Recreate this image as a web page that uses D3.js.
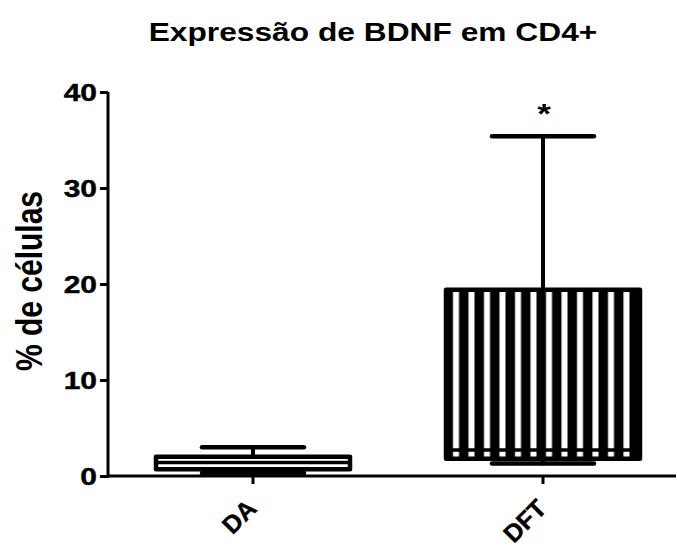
<!DOCTYPE html>
<html>
<head>
<meta charset="utf-8">
<script src="https://cdn.jsdelivr.net/npm/d3@7"></script>
<style>
  body { margin: 0; background: #fff; }
  text { font-family: "Liberation Sans", Arial, sans-serif; font-weight: bold; fill: #000; }
</style>
</head>
<body>
<svg id="chart" width="677" height="550"></svg>
<script>
const categories = ["DA", "DFT"];
const minValues = [0.3, 1.3];
const q1Values = [0.7, 1.8];
const medianValues = [1.4, 2.7];
const q3Values = [2.0, 19.4];
const maxValues = [3.0, 35.4];
const yTicks = [0, 10, 20, 30, 40];
const title = "Expressão de BDNF em CD4+";
const yLabel = "% de células";
const significance = ["", "*"];
const striped = [false, true];

const SX = 1.25; // horizontal stretch of the reference's lettering

const svg = d3.select("#chart");
const y = d3.scaleLinear().domain([0, 40]).range([476, 92]);
const x = d3.scaleBand().domain(categories).range([108, 688]).padding(0);
const boxW = 194;
const capW = 102;

const defs = svg.append("defs");
const pat = defs.append("pattern")
  .attr("id", "stripes")
  .attr("patternUnits", "userSpaceOnUse")
  .attr("x", x("DFT") + x.bandwidth() / 2 - boxW / 2 - 2)
  .attr("y", 0)
  .attr("width", 15.5)
  .attr("height", 10);
pat.append("rect").attr("width", 15.5).attr("height", 10).attr("fill", "#000");
pat.append("rect").attr("x", 9).attr("width", 6).attr("height", 10).attr("fill", "#fff");

const data = categories.map((c, i) => ({
  c, min: minValues[i], q1: q1Values[i], med: medianValues[i], q3: q3Values[i], max: maxValues[i],
  sig: significance[i], striped: striped[i]
}));

const g = svg.append("g");
data.forEach(d => {
  const cx = x(d.c) + x.bandwidth() / 2;
  const gg = g.append("g").attr("stroke", "#000").attr("stroke-linecap", "round").attr("stroke-linejoin", "round");
  gg.append("line").attr("x1", cx).attr("x2", cx).attr("y1", y(d.max)).attr("y2", y(d.q3)).attr("stroke-width", 4);
  gg.append("line").attr("x1", cx).attr("x2", cx).attr("y1", y(d.q1)).attr("y2", y(d.min)).attr("stroke-width", 4);
  gg.append("line").attr("x1", cx - capW / 2).attr("x2", cx + capW / 2).attr("y1", y(d.max)).attr("y2", y(d.max)).attr("stroke-width", 4.5);
  gg.append("line").attr("x1", cx - capW / 2).attr("x2", cx + capW / 2).attr("y1", y(d.min)).attr("y2", y(d.min)).attr("stroke-width", 4.5);
  gg.append("rect").attr("x", cx - boxW / 2).attr("width", boxW)
    .attr("y", y(d.q3)).attr("height", y(d.q1) - y(d.q3))
    .attr("fill", d.striped ? "url(#stripes)" : "#fff")
    .attr("stroke-width", 4.5);
  gg.append("line").attr("x1", cx - boxW / 2).attr("x2", cx + boxW / 2).attr("y1", y(d.med)).attr("y2", y(d.med)).attr("stroke-width", 3.5);
  if (d.sig) {
    svg.append("text").attr("text-anchor", "middle").attr("font-size", 28)
      .attr("transform", `translate(${cx + 1},${y(d.max) - 13}) scale(${SX},1)`).text(d.sig);
  }
});

// Y axis
const yAxis = svg.append("g").attr("transform", "translate(108,0)")
  .call(d3.axisLeft(y).tickValues(yTicks).tickSize(8).tickFormat(d3.format("d")));
yAxis.select(".domain").remove();
yAxis.selectAll(".tick line").attr("stroke", "#000").attr("stroke-width", 3);
yAxis.selectAll(".tick text")
  .attr("font-size", 24).attr("font-family", "Liberation Sans, Arial, sans-serif")
  .attr("font-weight", "bold").attr("fill", "#000")
  .attr("stroke", "#000").attr("stroke-width", 0.4)
  .attr("x", -11 / SX).attr("dy", "0.36em")
  .attr("transform", `scale(${SX},1)`);
svg.append("line").attr("x1", 108).attr("x2", 108).attr("y1", y(40)).attr("y2", y(0) + 1.5)
  .attr("stroke", "#000").attr("stroke-width", 3);

// X axis
svg.append("line").attr("x1", 108).attr("x2", 676).attr("y1", y(0)).attr("y2", y(0))
  .attr("stroke", "#000").attr("stroke-width", 3);
const xAxis = svg.append("g").attr("transform", `translate(0,${y(0)})`)
  .call(d3.axisBottom(x).tickSize(8).tickFormat(""));
xAxis.select(".domain").remove();
xAxis.selectAll(".tick line").attr("stroke", "#000").attr("stroke-width", 3);
categories.forEach(c => {
  const cx = x(c) + x.bandwidth() / 2;
  svg.append("text").attr("text-anchor", "end").attr("font-size", 25)
    .attr("stroke", "#000").attr("stroke-width", 0.4)
    .attr("transform", `translate(${cx + 5},${y(0) + 34}) rotate(-45)`)
    .text(c);
});

// Title
svg.append("text").attr("text-anchor", "middle").attr("font-size", 26)
  .attr("transform", `translate(373,41) scale(1.22,1)`).text(title);
// Y label
svg.append("text").attr("text-anchor", "middle").attr("font-size", 30)
  .attr("transform", `translate(42,281) scale(${SX},1) rotate(-90)`).text(yLabel);
</script>
</body>
</html>
